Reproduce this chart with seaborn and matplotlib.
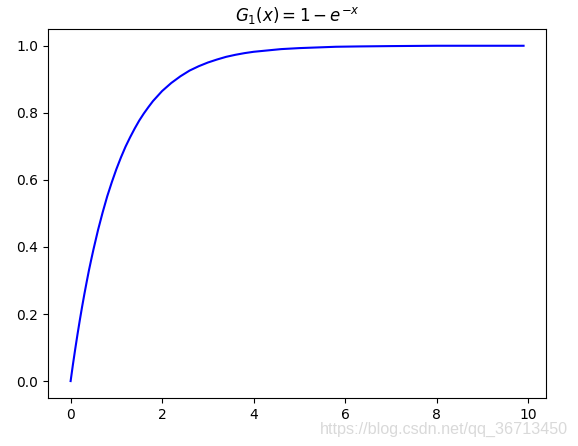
import matplotlib
matplotlib.use("Agg")
import matplotlib.pyplot as plt
import seaborn as sns
import pandas as pd

# values
x_vals = [0.0, 0.05, 0.1, 0.15, 0.2, 0.25, 0.3, 0.35, 0.4, 0.45, 0.5, 0.6, 0.7, 0.8, 0.9,
          1.0, 1.1, 1.2, 1.3, 1.4, 1.5, 1.6, 1.7, 1.8, 1.9, 2.0, 2.2, 2.4, 2.6, 2.8,
          3.0, 3.2, 3.4, 3.6, 3.8, 4.0, 4.3, 4.6, 5.0, 5.4, 5.8, 6.3, 7.0, 8.0, 9.0, 9.9]
y_vals = [0.000, 0.049, 0.095, 0.139, 0.181, 0.221, 0.259, 0.295, 0.330, 0.362, 0.393,
          0.451, 0.503, 0.551, 0.593, 0.632, 0.667, 0.699, 0.727, 0.753, 0.777, 0.798,
          0.817, 0.835, 0.850, 0.865, 0.889, 0.909, 0.926, 0.939, 0.950, 0.959, 0.967,
          0.973, 0.978, 0.982, 0.986, 0.990, 0.993, 0.995, 0.997, 0.998, 0.999, 1.000,
          1.000, 1.000]
x_ticks = [0, 2, 4, 6, 8, 10]
y_ticks = [0.0, 0.2, 0.4, 0.6, 0.8, 1.0]

data = pd.DataFrame({"x": x_vals, "G1": y_vals})

fig = plt.figure(figsize=(5.78, 4.46), dpi=100)
ax = fig.add_axes([0.083, 0.108, 0.862, 0.827])

sns.lineplot(data=data, x="x", y="G1", color="blue", linewidth=1.5, sort=False, ax=ax)

ax.set_xticks(x_ticks)
ax.set_yticks(y_ticks)
ax.set_xlim(-0.495, 10.395)
ax.set_ylim(-0.05, 1.05)
ax.set_xlabel("")
ax.set_ylabel("")
ax.set_title(r"$G_1(x) = 1 - e^{-x}$", fontsize=12)

# faint watermark
fig.text(0.983, 0.028, "https://blog.csdn.net/qq_36713450", ha="right", va="baseline",
         fontsize=11.6, color="#d9d9d9", family=["Liberation Sans", "DejaVu Sans"])

fig.savefig("out.png", dpi=100)
